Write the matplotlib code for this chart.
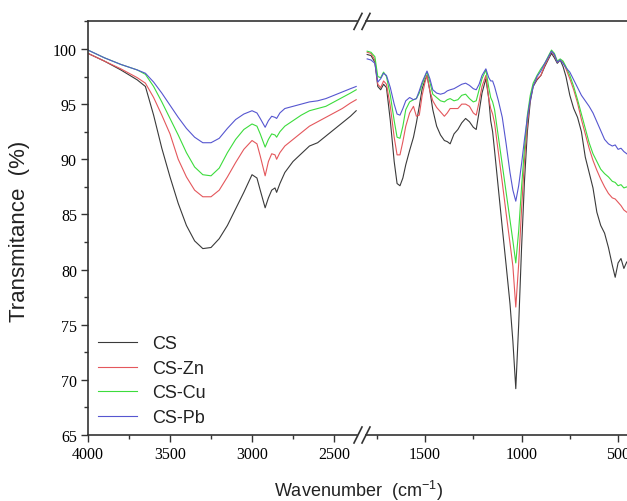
import matplotlib
matplotlib.use("Agg")
import matplotlib.pyplot as plt
from matplotlib.lines import Line2D
from matplotlib.ticker import MultipleLocator

plt.rcParams['mathtext.default'] = 'regular'

# ---- data: 4000-2360 cm-1 part ----
wn_left = [4000, 3900, 3800, 3700, 3650, 3600, 3550, 3500, 3450, 3400, 3350, 3300,
           3250, 3200, 3150, 3100, 3050, 3000, 2970, 2950, 2920, 2900, 2880, 2860,
           2850, 2830, 2800, 2750, 2700, 2650, 2600, 2550, 2500, 2450, 2400, 2365]
cs_left = [99.6, 98.9, 98.1, 97.2, 96.6, 94.0, 91.0, 88.4, 86.0, 84.0, 82.6, 81.9,
           82.0, 82.8, 84.0, 85.5, 87.0, 88.6, 88.3, 87.2, 85.6, 86.5, 87.2, 87.4,
           87.0, 87.8, 88.8, 89.8, 90.5, 91.2, 91.5, 92.1, 92.7, 93.3, 93.9, 94.4]
zn_left = [99.6, 98.9, 98.2, 97.4, 96.9, 95.6, 94.0, 92.3, 90.0, 88.4, 87.2, 86.6,
           86.6, 87.2, 88.4, 89.7, 90.9, 91.7, 91.4, 90.3, 88.5, 89.8, 90.5, 90.4,
           90.0, 90.6, 91.2, 91.8, 92.4, 93.0, 93.4, 93.8, 94.2, 94.6, 95.1, 95.4]
cu_left = [99.9, 99.2, 98.6, 98.1, 97.7, 96.6, 95.2, 93.7, 92.2, 90.6, 89.3, 88.6,
           88.5, 89.2, 90.6, 91.8, 92.7, 93.2, 93.0, 92.3, 91.1, 91.8, 92.3, 92.2,
           92.0, 92.5, 93.0, 93.5, 94.0, 94.4, 94.6, 94.8, 95.2, 95.6, 96.0, 96.3]
pb_left = [99.9, 99.2, 98.6, 98.1, 97.8, 97.0, 96.0, 94.9, 93.8, 92.8, 92.0, 91.5,
           91.5, 91.9, 92.8, 93.6, 94.1, 94.4, 94.2, 93.7, 92.9, 93.5, 93.9, 93.8,
           93.7, 94.2, 94.6, 94.8, 95.0, 95.2, 95.3, 95.5, 95.8, 96.1, 96.4, 96.6]

# ---- data: 1800-440 cm-1 part ----
wn_right = [1800, 1780, 1760, 1745, 1730, 1715, 1700, 1680, 1660, 1645, 1630, 1615,
            1600, 1580, 1560, 1545, 1530, 1515, 1500, 1490, 1475, 1460, 1440, 1420,
            1400, 1385, 1370, 1350, 1330, 1310, 1290, 1270, 1250, 1235, 1220, 1205,
            1185, 1170, 1160, 1150, 1140, 1120, 1100, 1080, 1060, 1045, 1030, 1015,
            1000, 985, 970, 955, 940, 920, 900, 880, 860, 845, 830, 815,
            800, 785, 770, 750, 730, 710, 690, 670, 650, 630, 610, 590,
            570, 550, 530, 515, 500, 485, 470, 455, 440]
cs_right = [99.5, 99.4, 98.8, 96.6, 96.3, 96.8, 96.5, 93.5, 89.8, 87.8, 87.6, 88.3,
            89.5, 90.8, 92.0, 93.3, 94.8, 96.4, 97.2, 97.6, 96.2, 94.5, 93.0, 92.2,
            91.7, 91.6, 91.4, 92.3, 92.7, 93.3, 93.7, 93.4, 92.9, 92.7, 94.3, 96.0,
            97.3, 95.5, 93.5, 92.5, 90.8, 87.3, 83.8, 80.4, 76.9, 73.5, 69.2, 75.0,
            82.0, 88.0, 92.5, 95.2, 96.6, 97.2, 97.6, 98.4, 99.1, 99.6, 99.2, 98.7,
            99.0, 98.4, 97.5, 95.8, 94.6, 93.8, 92.5, 90.2, 88.8, 87.4, 85.2, 84.0,
            83.3, 82.0, 80.4, 79.3, 80.6, 81.0, 80.1, 80.7, 80.3]
zn_right = [99.7, 99.6, 99.0, 96.8, 96.5, 97.1, 96.8, 94.8, 92.0, 90.4, 90.4, 91.6,
            93.0, 94.2, 94.8, 93.9, 94.0, 95.8, 97.0, 97.6, 96.2, 95.3, 94.7, 94.3,
            93.9, 94.2, 94.6, 94.6, 94.6, 95.0, 95.0, 94.8, 94.2, 94.0, 95.2, 96.6,
            97.6, 95.5, 94.6, 94.1, 93.3, 90.6, 87.9, 85.1, 82.4, 80.3, 76.6, 80.5,
            85.5, 89.9, 93.3, 95.5, 96.7, 97.3, 97.6, 98.5, 99.2, 99.8, 99.4, 98.8,
            99.0, 98.8, 98.2, 97.3, 96.3, 95.1, 93.6, 92.3, 91.0, 89.9, 89.0, 88.2,
            87.5, 86.9, 86.5, 86.4, 86.1, 85.8, 85.4, 85.2, 85.0]
cu_right = [99.8, 99.7, 99.3, 97.5, 97.4, 97.9, 97.5, 95.8, 93.5, 92.0, 91.9, 93.0,
            94.5, 95.2, 95.4, 95.5, 96.0, 96.8, 97.5, 97.9, 97.0, 95.9, 95.6, 95.3,
            95.2, 95.4, 95.5, 95.3, 95.4, 95.8, 95.9, 95.5, 95.2, 95.3, 96.3, 97.3,
            98.1, 96.5, 95.6, 95.2, 94.5, 92.0, 89.5, 87.0, 84.5, 82.6, 80.6, 83.5,
            87.5, 91.0, 94.0, 95.8, 96.9, 97.6, 98.2, 98.7, 99.4, 99.9, 99.6, 98.9,
            99.1, 98.9, 98.4, 97.6, 96.6, 95.4, 94.1, 92.8, 91.5, 90.5, 89.8, 89.1,
            88.7, 88.4, 88.0, 87.9, 87.6, 87.7, 87.4, 87.5, 87.3]
pb_right = [99.1, 99.0, 98.7, 97.0, 97.3, 97.8, 97.6, 96.5, 95.0, 94.1, 94.0, 94.6,
            95.3, 95.6, 95.4, 95.5, 96.2, 97.0, 97.6, 98.0, 97.3, 96.3, 96.0, 95.9,
            96.0, 96.2, 96.3, 96.4, 96.6, 96.8, 96.9, 96.7, 96.4, 96.3, 96.8, 97.6,
            98.2, 97.4, 97.1, 97.1, 96.6, 95.3, 93.8, 91.4, 88.8, 87.2, 86.2, 87.6,
            89.6, 91.8, 93.8, 95.4, 96.6, 97.5, 98.0, 98.7, 99.3, 99.8, 99.5, 98.8,
            99.0, 98.7, 98.3, 97.9, 97.2, 96.5, 95.8, 95.3, 94.8, 94.2, 93.4, 92.6,
            91.8, 91.4, 91.2, 91.3, 90.9, 91.0, 90.7, 90.5, 90.3]

labels = ['CS', 'CS-Zn', 'CS-Cu', 'CS-Pb']
colors = ['#3a3a3a', '#e4575c', '#3cdc3c', '#5656d0']
left_series = [cs_left, zn_left, cu_left, pb_left]
right_series = [cs_right, zn_right, cu_right, pb_right]

W, H = 627, 502
fig = plt.figure(figsize=(W / 100, H / 100), dpi=100)

# axes layout in pixels (x0, x1) and y range
y_top, y_bot = 22.4, 436
ax_l = fig.add_axes([88 / W, (H - y_bot) / H, (357 - 88) / W, (y_bot - y_top) / H])
ax_r = fig.add_axes([366 / W, (H - y_bot) / H, (637 - 366) / W, (y_bot - y_top) / H])

for vals_l, vals_r, lab, col in zip(left_series, right_series, labels, colors):
    ax_l.plot(wn_left, vals_l, color=col, lw=0.8, label=lab)
    ax_r.plot(wn_right, vals_r, color=col, lw=0.8)

ax_l.set_xlim(4000, 2360)
ax_r.set_xlim(1806, 402)
for ax in (ax_l, ax_r):
    ax.set_ylim(65, 102.5)
    for s in ax.spines.values():
        s.set_color('#333333')
        s.set_linewidth(1.2)
    ax.xaxis.set_major_locator(MultipleLocator(500))
    ax.xaxis.set_minor_locator(MultipleLocator(250))
    ax.tick_params(which='major', direction='out', length=5, width=1.0, color='#333333',
                   labelsize=11.5, pad=3)
    ax.tick_params(which='minor', direction='out', length=3, width=1.0, color='#333333')
    for t in ax.get_xticklabels() + ax.get_yticklabels():
        t.set_family('Liberation Serif')

ax_l.spines['right'].set_visible(False)
ax_l.yaxis.set_major_locator(MultipleLocator(5))
ax_l.yaxis.set_minor_locator(MultipleLocator(2.5))
ax_r.spines['left'].set_visible(False)
ax_r.spines['right'].set_visible(False)
ax_r.tick_params(axis='y', which='both', left=False, labelleft=False)

# break marks "//"
for yc in (y_top, y_bot):
    for xc in (358, 366):
        x0, x1 = xc - 4, xc + 4
        fig.add_artist(Line2D([x0 / W, x1 / W], [(H - yc - 8) / H, (H - yc + 8) / H],
                              color='#333333', lw=1.2))

fig.text(358 / W, 1 - 491 / H, 'Wavenumber  (cm$^{-1}$)', ha='center', va='center',
         fontsize=13, family='Liberation Sans', color='#222222')
fig.text(20 / W, 1 - 231 / H, 'Transmitance  (%)', ha='center', va='center',
         rotation=90, fontsize=16, family='Liberation Sans', color='#222222')

leg = ax_l.legend(loc='lower left', bbox_to_anchor=(98 / W, (H - 427) / H),
                  bbox_transform=fig.transFigure, frameon=False, handlelength=2.16,
                  handletextpad=0.83, labelspacing=0.42, borderpad=0, borderaxespad=0,
                  prop={'family': 'Liberation Sans', 'size': 13})
for t in leg.get_texts():
    t.set_color('#222222')

fig.savefig('out.png', dpi=100)
